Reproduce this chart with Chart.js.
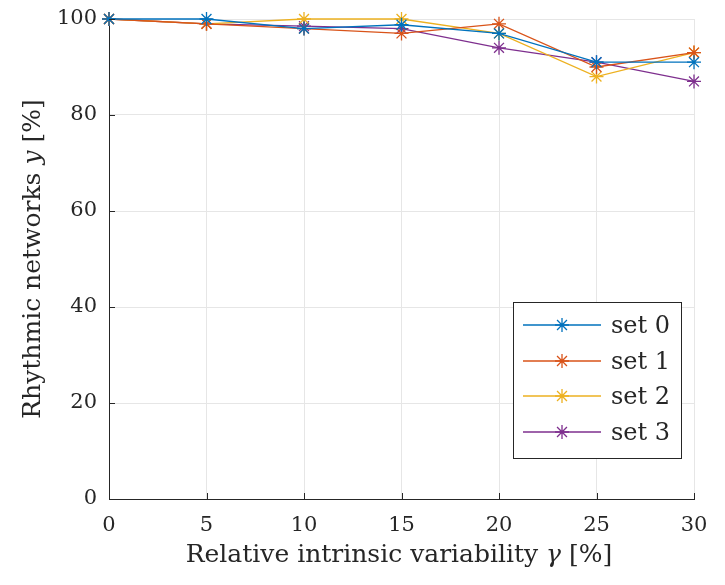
<!DOCTYPE html>
<html>
<head>
<meta charset="utf-8">
<script src="https://cdn.jsdelivr.net/npm/chart.js@4/dist/chart.umd.min.js"></script>
<style>
  html, body { margin: 0; padding: 0; background: #fff; }
  #wrap { width: 725px; height: 585px; position: relative; }
</style>
</head>
<body>
<div id="wrap"><canvas id="c"></canvas></div>
<script>
// Relative intrinsic variability (x) and share of rhythmic networks per set (y)
const gamma = [0, 5, 10, 15, 20, 25, 30];
const set0 = [100, 100, 98, 98.8, 97, 91, 91];
const set1 = [100, 99, 98, 97, 99, 90, 93];
const set2 = [100, 99, 100, 100, 97, 88, 93];
const set3 = [100, 99, 98.5, 98, 94, 91, 87];
const setNames = ['set 0', 'set 1', 'set 2', 'set 3'];
const setColors = ['#0072BD', '#D95319', '#EDB120', '#7E2F8E'];
const xTicks = [0, 5, 10, 15, 20, 25, 30];
const yTicks = [0, 20, 40, 60, 80, 100];

const SERIF = '"DejaVu Serif", "Liberation Serif", serif';
const AXIS = '#262626';

const seriesValues = [set0, set1, set2, set3];
const datasets = seriesValues.map((vals, i) => ({
  label: setNames[i],
  data: gamma.map((g, k) => ({ x: g, y: vals[k] })),
  borderColor: setColors[i],
  backgroundColor: setColors[i],
  borderWidth: 1.3,
  pointStyle: 'star',
  pointRadius: 7,
  pointHoverRadius: 7,
  pointBorderWidth: 1.3,
  tension: 0,
  fill: false,
  clip: false
}));

// Inward tick marks, axis titles with italic symbols, and the boxed legend
const decorations = {
  id: 'decorations',
  afterDraw(chart) {
    const ctx = chart.ctx;
    const { left, right, top, bottom } = chart.chartArea;
    const xs = chart.scales.x, ys = chart.scales.y;
    ctx.save();
    ctx.strokeStyle = AXIS;
    ctx.lineWidth = 1;
    xTicks.forEach(t => {
      const px = Math.round(xs.getPixelForValue(t)) + 0.5;
      ctx.beginPath(); ctx.moveTo(px, bottom); ctx.lineTo(px, bottom - 6); ctx.stroke();
    });
    yTicks.forEach(t => {
      const py = Math.round(ys.getPixelForValue(t)) + 0.5;
      ctx.beginPath(); ctx.moveTo(left, py); ctx.lineTo(left + 6, py); ctx.stroke();
    });

    // mixed upright / italic title text, drawn on the alphabetic baseline
    function drawMixed(parts, cx, baseY, size) {
      const fonts = parts.map(p => (p[1] ? 'italic ' : '') + size + 'px ' + SERIF);
      let total = 0;
      const widths = parts.map((p, i) => { ctx.font = fonts[i]; const w = ctx.measureText(p[0]).width; total += w; return w; });
      let x = cx - total / 2;
      ctx.textBaseline = 'alphabetic';
      ctx.textAlign = 'left';
      parts.forEach((p, i) => { ctx.font = fonts[i]; ctx.fillText(p[0], x, baseY); x += widths[i]; });
    }
    ctx.fillStyle = AXIS;
    drawMixed([['Relative intrinsic variability ', false], ['\u03B3', true], [' [%]', false]], 399, 562, 25);
    ctx.save();
    ctx.translate(40, 259);
    ctx.rotate(-Math.PI / 2);
    drawMixed([['Rhythmic networks ', false], ['y', true], [' [%]', false]], 0, 0, 25);
    ctx.restore();

    // legend box
    const bx = 513.5, by = 302.5, bw = 168, bh = 156;
    ctx.fillStyle = '#fff';
    ctx.fillRect(bx, by, bw, bh);
    ctx.strokeStyle = AXIS;
    ctx.lineWidth = 1;
    ctx.strokeRect(bx, by, bw, bh);
    const rowY = [325, 361, 396, 432];
    chart.data.datasets.forEach((ds, i) => {
      const y = rowY[i];
      ctx.strokeStyle = ds.borderColor;
      ctx.lineWidth = 1.3;
      ctx.beginPath(); ctx.moveTo(523, y); ctx.lineTo(601, y); ctx.stroke();
      Chart.helpers.drawPoint(ctx, { pointStyle: 'star', radius: 7, borderWidth: 1.3 }, 562, y);
      ctx.fillStyle = AXIS;
      ctx.font = '24px ' + SERIF;
      ctx.textAlign = 'left';
      ctx.textBaseline = 'alphabetic';
      ctx.fillText(ds.label, 611, y + 8);
    });
    ctx.restore();
  }
};

new Chart(document.getElementById('c'), {
  type: 'line',
  data: { datasets },
  options: {
    responsive: true,
    maintainAspectRatio: false,
    animation: false,
    events: [],
    layout: { padding: { left: 0, top: 19, right: 31, bottom: 0 } },
    plugins: { legend: { display: false }, tooltip: { enabled: false }, title: { display: false } },
    scales: {
      x: {
        type: 'linear', min: 0, max: 30,
        afterBuildTicks: s => { s.ticks = xTicks.map(v => ({ value: v })); },
        afterFit: s => { s.height = 86; s.paddingLeft = 0; s.paddingRight = 0; },
        grid: { color: '#e6e6e6', lineWidth: 1, drawTicks: false },
        border: { color: AXIS, width: 1 },
        ticks: { color: AXIS, font: { family: SERIF, size: 21 }, padding: 14, maxRotation: 0 }
      },
      y: {
        type: 'linear', min: 0, max: 100,
        afterBuildTicks: s => { s.ticks = yTicks.map(v => ({ value: v })); },
        afterFit: s => { s.width = 109; s.paddingTop = 0; s.paddingBottom = 0; },
        grid: { color: '#e6e6e6', lineWidth: 1, drawTicks: false },
        border: { color: AXIS, width: 1 },
        ticks: { color: AXIS, font: { family: SERIF, size: 21 }, padding: 12 }
      }
    }
  },
  plugins: [decorations]
});
</script>
</body>
</html>
